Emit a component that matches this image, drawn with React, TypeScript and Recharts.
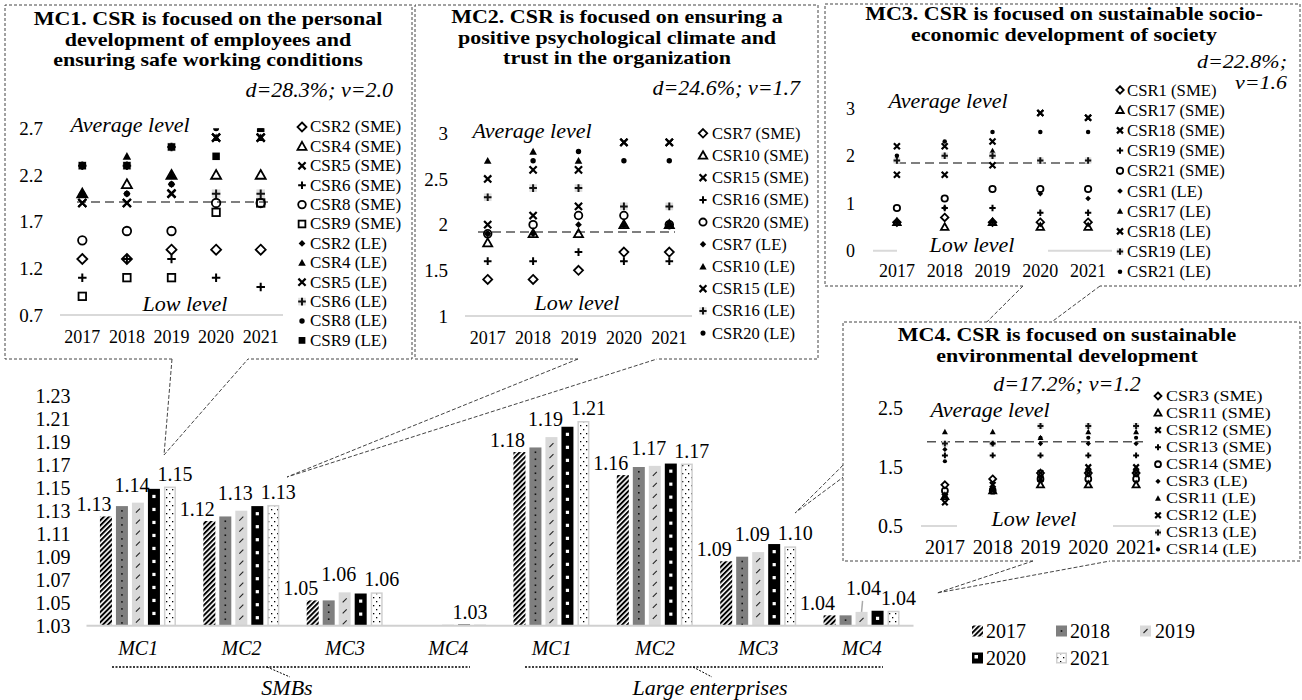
import React from 'react';
import { BarChart, Bar, XAxis, YAxis, LabelList, LineChart, Line, ReferenceLine } from 'recharts';

const FF = "'Liberation Serif','Times New Roman',Times,serif";

// ---------- main bar chart data ----------
const barCategories = ['MC1', 'MC2', 'MC3', 'MC4', 'MC1', 'MC2', 'MC3', 'MC4'];
const years = ['2017', '2018', '2019', '2020', '2021'];
const bar2017 = [1.125, 1.121, 1.052, 1.0305, 1.181, 1.161, 1.086, 1.039];
const bar2018 = [1.134, 1.125, 1.052, 1.0305, 1.185, 1.168, 1.09, 1.039];
const bar2019 = [1.137, 1.13, 1.059, 1.031, 1.194, 1.169, 1.094, 1.042];
const bar2020 = [1.149, 1.134, 1.058, 1.031, 1.203, 1.171, 1.101, 1.043];
const bar2021 = [1.151, 1.135, 1.059, 1.031, 1.208, 1.171, 1.099, 1.043];
const label2017 = ['1.13', '1.12', '1.05', null, '1.18', '1.16', '1.09', '1.04'];
const label2019 = ['1.14', '1.13', '1.06', null, '1.19', '1.17', '1.09', '1.04'];
const label2020 = [null, null, null, '1.03', null, null, null, null];
const label2021 = ['1.15', '1.13', '1.06', null, '1.21', '1.17', '1.10', '1.04'];
const mainTicks = [1.03, 1.05, 1.07, 1.09, 1.11, 1.13, 1.15, 1.17, 1.19, 1.21, 1.23];

// ---------- MC1 inset ----------
const mc1Names = ['CSR2 (SME)', 'CSR4 (SME)', 'CSR5 (SME)', 'CSR6 (SME)', 'CSR8 (SME)', 'CSR9 (SME)', 'CSR2 (LE)', 'CSR4 (LE)', 'CSR5 (LE)', 'CSR6 (LE)', 'CSR8 (LE)', 'CSR9 (LE)'];
const mc1Csr2Sme = [1.3, 1.3, 1.4, 1.4, 1.4];
const mc1Csr4Sme = [2.0, 2.1, 2.2, 2.2, 2.2];
const mc1Csr5Sme = [1.9, 1.9, 2.0, 2.6, 2.6];
const mc1Csr6Sme = [1.1, 1.3, 1.3, 1.1, 1.0];
const mc1Csr8Sme = [1.5, 1.6, 1.6, 1.9, 1.9];
const mc1Csr9Sme = [0.9, 1.1, 1.1, 1.8, 1.9];
const mc1Csr2Le = [2.0, 2.0, 2.1, 2.0, 2.0];
const mc1Csr4Le = [2.0, 2.4, 2.2, 2.6, 2.6];
const mc1Csr5Le = [1.9, 1.9, 2.0, 2.6, 2.6];
const mc1Csr6Le = [2.3, 2.3, 2.5, 2.0, 2.0];
const mc1Csr8Le = [2.0, 2.0, 2.1, 2.7, 2.7];
const mc1Csr9Le = [2.3, 2.3, 2.5, 2.4, 2.7];
const mc1Ticks = [0.7, 1.2, 1.7, 2.2, 2.7];
const mc1Title = ['MC1. CSR is focused on the personal', 'development of employees and', 'ensuring safe working conditions'];

// ---------- MC2 inset ----------
const mc2Names = ['CSR7 (SME)', 'CSR10 (SME)', 'CSR15 (SME)', 'CSR16 (SME)', 'CSR20 (SME)', 'CSR7 (LE)', 'CSR10 (LE)', 'CSR15 (LE)', 'CSR16 (LE)', 'CSR20 (LE)'];
const mc2Csr7Sme = [1.4, 1.4, 1.5, 1.7, 1.7];
const mc2Csr10Sme = [1.8, 1.9, 1.9, 2.0, 2.0];
const mc2Csr15Sme = [2.0, 2.1, 2.2, 2.9, 2.9];
const mc2Csr16Sme = [1.6, 1.6, 1.7, 1.6, 1.6];
const mc2Csr20Sme = [1.9, 2.0, 2.1, 2.1, 2.0];
const mc2Csr7Le = [1.9, 1.9, 2.0, 2.0, 2.0];
const mc2Csr10Le = [2.7, 2.8, 2.7, 2.0, 2.0];
const mc2Csr15Le = [2.5, 2.6, 2.6, 2.9, 2.9];
const mc2Csr16Le = [2.3, 2.4, 2.4, 2.2, 2.2];
const mc2Csr20Le = [1.9, 2.7, 2.8, 2.7, 2.7];
const mc2Ticks = [1, 1.5, 2, 2.5, 3];
const mc2Title = ['MC2. CSR is focused on ensuring a', 'positive psychological climate and', 'trust in the organization'];

// ---------- MC3 inset ----------
const mc3Names = ['CSR1 (SME)', 'CSR17 (SME)', 'CSR18 (SME)', 'CSR19 (SME)', 'CSR21 (SME)', 'CSR1 (LE)', 'CSR17 (LE)', 'CSR18 (LE)', 'CSR19 (LE)', 'CSR21 (LE)'];
const mc3Csr1Sme = [0.6, 0.7, 0.6, 0.6, 0.6];
const mc3Csr17Sme = [0.6, 0.5, 0.6, 0.5, 0.5];
const mc3Csr18Sme = [1.6, 1.6, 1.8, 2.9, 2.8];
const mc3Csr19Sme = [1.9, 0.9, 0.9, 0.8, 0.8];
const mc3Csr21Sme = [0.9, 1.1, 1.3, 1.3, 1.3];
const mc3Csr1Le = [0.6, 0.9, 0.6, 1.2, 1.1];
const mc3Csr17Le = [1.9, 2.0, 2.1, 1.9, 1.9];
const mc3Csr18Le = [2.2, 2.2, 2.3, 2.9, 2.8];
const mc3Csr19Le = [1.9, 2.0, 2.0, 1.9, 1.9];
const mc3Csr21Le = [2.0, 2.3, 2.5, 2.5, 2.5];
const mc3Ticks = [0, 1, 2, 3];
const mc3Title = ['MC3. CSR is focused on sustainable socio-', 'economic development of society'];

// ---------- MC4 inset ----------
const mc4Names = ['CSR3 (SME)', 'CSR11 (SME)', 'CSR12 (SME)', 'CSR13 (SME)', 'CSR14 (SME)', 'CSR3 (LE)', 'CSR11 (LE)', 'CSR12 (LE)', 'CSR13 (LE)', 'CSR14 (LE)'];
const mc4Csr3Sme = [1.2, 1.3, 1.4, 1.4, 1.4];
const mc4Csr11Sme = [1.0, 1.1, 1.2, 1.2, 1.2];
const mc4Csr12Sme = [0.9, 1.1, 1.4, 1.5, 1.5];
const mc4Csr13Sme = [1.7, 1.7, 1.7, 1.7, 1.7];
const mc4Csr14Sme = [1.1, 1.1, 1.3, 1.3, 1.3];
const mc4Csr3Le = [1.8, 1.9, 1.9, 1.9, 1.9];
const mc4Csr11Le = [2.1, 2.1, 2.0, 2.1, 2.1];
const mc4Csr12Le = [1.0, 1.2, 1.3, 1.4, 1.4];
const mc4Csr13Le = [1.9, 1.9, 2.2, 2.2, 2.2];
const mc4Csr14Le = [1.6, 1.9, 2.0, 2.0, 2.0];
const mc4Ticks = [0.5, 1.5, 2.5];
const mc4Title = ['MC4. CSR is focused on sustainable', 'environmental development'];

const averageLevels = [1.91, 1.92, 1.85, 1.93];

// ---------- markers ----------
function Marker({ kind, cx, cy, s }: { kind: string; cx: number; cy: number; s: number }) {
  const h = s / 2;
  switch (kind) {
    case 'dO':
      return <path d={`M${cx} ${cy - h}L${cx + h} ${cy}L${cx} ${cy + h}L${cx - h} ${cy}Z`} fill="none" stroke="#000" strokeWidth={1.8} />;
    case 'dF': {
      const k = h * 0.75;
      return <path d={`M${cx} ${cy - k}L${cx + k} ${cy}L${cx} ${cy + k}L${cx - k} ${cy}Z`} fill="#000" />;
    }
    case 'tO':
      return <path d={`M${cx} ${cy - h}L${cx + h} ${cy + h * 0.75}L${cx - h} ${cy + h * 0.75}Z`} fill="none" stroke="#000" strokeWidth={1.8} />;
    case 'tF': {
      const k = h * 0.85;
      return <path d={`M${cx} ${cy - k}L${cx + k} ${cy + k * 0.8}L${cx - k} ${cy + k * 0.8}Z`} fill="#000" />;
    }
    case 'x': {
      const k = h * 0.8;
      return <path d={`M${cx - k} ${cy - k}L${cx + k} ${cy + k}M${cx + k} ${cy - k}L${cx - k} ${cy + k}`} stroke="#000" strokeWidth={2.2} />;
    }
    case 'p': {
      const k = h * 0.85;
      return <path d={`M${cx - k} ${cy}L${cx + k} ${cy}M${cx} ${cy - k}L${cx} ${cy + k}`} stroke="#000" strokeWidth={2} />;
    }
    case 'pG': {
      const k = h * 0.85;
      return (
        <g>
          <rect x={cx - k} y={cy - k} width={2 * k} height={2 * k} fill="#ddd" />
          <path d={`M${cx - k} ${cy}L${cx + k} ${cy}M${cx} ${cy - k}L${cx} ${cy + k}`} stroke="#111" strokeWidth={2} />
        </g>
      );
    }
    case 'cO':
      return <circle cx={cx} cy={cy} r={h * 0.85} fill="none" stroke="#000" strokeWidth={1.8} />;
    case 'sO': {
      const k = h * 0.75;
      return <rect x={cx - k} y={cy - k} width={2 * k} height={2 * k} fill="none" stroke="#000" strokeWidth={1.8} />;
    }
    case 'sF': {
      const k = h * 0.75;
      return <rect x={cx - k} y={cy - k} width={2 * k} height={2 * k} fill="#000" />;
    }
    case 'o':
    default:
      return <circle cx={cx} cy={cy} r={h * 0.6} fill="#000" />;
  }
}

const kindsA = ['dO', 'tO', 'x', 'p', 'cO', 'sO', 'dF', 'tF', 'x', 'pG', 'o', 'sF'];
const kindsB = ['dO', 'tO', 'x', 'p', 'cO', 'dF', 'tF', 'x', 'pG', 'o'];

type InsetCfg = {
  w: number; h: number; margin: any; yW: number; domain: [number, number]; ticks: number[];
  refY: number; refL: number; refR: number; tmY: number; tmX: number; fsX: number; fsY: number; ms: number;
  vals: number[][]; kinds: string[];
};

function Inset({ cfg }: { cfg: InsetCfg }) {
  const rows = years.map((y, i) => {
    const r: any = { xi: i, year: y };
    cfg.vals.forEach((v, k) => { r['s' + k] = v[i]; });
    return r;
  });
  return (
    <LineChart width={cfg.w} height={cfg.h} data={rows} margin={cfg.margin}>
      <XAxis type="number" dataKey="xi" domain={[-0.5, 4.5]} ticks={[0, 1, 2, 3, 4]} interval={0}
        tickFormatter={(i: number) => years[i]} axisLine={{ stroke: '#d9d9d9', strokeWidth: 2 }} tickLine={false}
        tickMargin={cfg.tmX} height={30} tick={{ fontSize: cfg.fsX, fill: '#000', fontFamily: FF }} allowDataOverflow />
      <YAxis type="number" domain={cfg.domain} ticks={cfg.ticks} interval={0} axisLine={false} tickLine={false}
        width={cfg.yW} tickMargin={cfg.tmY} tick={{ fontSize: cfg.fsY, fill: '#000', fontFamily: FF }} allowDataOverflow />
      <ReferenceLine y={cfg.refY} stroke="#555" strokeDasharray="9 5" strokeWidth={1.5}
        shape={(p: any) => <line x1={p.x1 + cfg.refL} y1={p.y1} x2={p.x2 - cfg.refR} y2={p.y2} stroke="#555" strokeDasharray="9 5" strokeWidth={1.5} />} />
      {cfg.vals.map((_, k) => (
        <Line key={k} dataKey={'s' + k} stroke="none" isAnimationActive={false} activeDot={false}
          dot={(p: any) => (p.cx == null || p.cy == null
            ? <g key={`e${k}-${p.index}`} />
            : <g key={`m${k}-${p.index}`}><Marker kind={cfg.kinds[k]} cx={p.cx} cy={p.cy} s={cfg.ms} /></g>)} />
      ))}
    </LineChart>
  );
}

// ---------- bars ----------
function BarShape(props: any) {
  const { x, y, width: w, height: h, yr } = props;
  if (!(h > 0)) return <g />;
  const cx = x + w / 2;
  const marks: any[] = [];
  if (yr === '2017') return <rect x={x} y={y} width={w} height={h} fill="url(#p2017)" />;
  if (yr === '2018') {
    for (let yy = y + 4; yy < y + h - 2; yy += 7) marks.push(<rect key={yy} x={cx - 0.8} y={yy} width={1.6} height={1.6} fill="#111" />);
    return <g><rect x={x} y={y} width={w} height={h} fill="#7f7f7f" />{marks}</g>;
  }
  if (yr === '2019') {
    for (let yy = y + 8; yy < y + h - 3; yy += 11) marks.push(<line key={yy} x1={cx - 2} y1={yy + 2} x2={cx + 2} y2={yy - 2} stroke="#222" strokeWidth={1.1} />);
    return <g><rect x={x} y={y} width={w} height={h} fill="#d9d9d9" />{marks}</g>;
  }
  if (yr === '2020') {
    for (let yy = y + 6; yy < y + h - 4; yy += 13) marks.push(<rect key={yy} x={cx - 1.6} y={yy} width={3.2} height={3.2} fill="#fff" />);
    return <g><rect x={x} y={y} width={w} height={h} fill="#000" />{marks}</g>;
  }
  return <rect x={x + 0.75} y={y + 0.75} width={Math.max(w - 1.5, 0)} height={Math.max(h - 0.75, 0)} fill="url(#p2021)" stroke="#d0d0d0" strokeWidth={1.5} />;
}

const mkLabel = (dx: number, dy: number, series: string) => (p: any) => {
  const v = p.value;
  if (v == null || v === '') return null;
  const vb = p.viewBox || {};
  const x = vb.x ?? p.x;
  const y = vb.y ?? p.y;
  const w = vb.width ?? p.width;
  const cx = x + w / 2;
  if (series === '2019' && p.index === 7) {
    return (
      <g>
        <line x1={cx + 1} y1={y - 11} x2={cx} y2={y} stroke="#aaa" strokeWidth={1.5} />
        <text x={cx + 2} y={y - 24} textAnchor="middle" dominantBaseline="central" fontSize={20} fontFamily={FF} fill="#000">{v}</text>
      </g>
    );
  }
  return <text x={cx + dx} y={y + dy} textAnchor="middle" dominantBaseline="central" fontSize={20} fontFamily={FF} fill="#000">{v}</text>;
};

const T = ({ x, y, s = 20, a = 'start', w = 'normal', i = false, children }: any) => (
  <text x={x} y={y} fontSize={s} textAnchor={a} fontWeight={w} fontStyle={i ? 'italic' : 'normal'} fontFamily={FF} dominantBaseline="central" fill="#000">{children}</text>
);

// lines of text, each horizontally stretched by sx so that tight line spacing does not make them collide
const ML = ({ x, y0, dy, lines, s = 20, sx = 1, a = 'start', w = 'normal', i = false }: any) => (
  <g>
    {lines.map((l: string, k: number) => (
      <text key={k} transform={`translate(${x} ${y0 + k * dy}) scale(${sx} 1)`} x={0} y={0} fontSize={s} textAnchor={a}
        fontWeight={w} fontStyle={i ? 'italic' : 'normal'} fontFamily={FF} dominantBaseline="central" fill="#000">{l}</text>
    ))}
  </g>
);

function InsetLegend({ names, kinds, x, tx, y0, dy, fs, sx = 1, ms }: any) {
  return (
    <g>
      {names.map((n: string, i: number) => (
        <Marker key={n} kind={kinds[i]} cx={x} cy={y0 + i * dy} s={ms} />
      ))}
      <ML x={tx} y0={y0} dy={dy} lines={names} s={fs} sx={sx} />
    </g>
  );
}

export default function App() {
  const barRows = barCategories.map((c, i) => ({
    key: `${c}|${i}`,
    v2017: bar2017[i], v2018: bar2018[i], v2019: bar2019[i], v2020: bar2020[i], v2021: bar2021[i],
    l2017: label2017[i], l2019: label2019[i], l2020: label2020[i], l2021: label2021[i],
  }));

  const mc1: InsetCfg = {
    w: 290, h: 250, margin: { top: 28.3, right: 7, bottom: 5, left: 0 }, yW: 60, domain: [0.7, 2.7], ticks: mc1Ticks,
    refY: averageLevels[0], refL: 17, refR: 10, tmY: 11, tmX: 9, fsX: 18, fsY: 19, ms: 10,
    vals: [mc1Csr2Sme, mc1Csr4Sme, mc1Csr5Sme, mc1Csr6Sme, mc1Csr8Sme, mc1Csr9Sme, mc1Csr2Le, mc1Csr4Le, mc1Csr5Le, mc1Csr6Le, mc1Csr8Le, mc1Csr9Le],
    kinds: kindsA,
  };
  const mc2: InsetCfg = {
    w: 290, h: 250, margin: { top: 33.3, right: 8, bottom: 4, left: 0 }, yW: 55, domain: [1, 3], ticks: mc2Ticks,
    refY: averageLevels[1], refL: 13, refR: 17, tmY: 11, tmX: 9, fsX: 18, fsY: 19, ms: 9,
    vals: [mc2Csr7Sme, mc2Csr10Sme, mc2Csr15Sme, mc2Csr16Sme, mc2Csr20Sme, mc2Csr7Le, mc2Csr10Le, mc2Csr15Le, mc2Csr16Le, mc2Csr20Le],
    kinds: kindsB,
  };
  const mc3: InsetCfg = {
    w: 300, h: 210, margin: { top: 28.3, right: 8, bottom: 9.3, left: 0 }, yW: 53, domain: [0, 3], ticks: mc3Ticks,
    refY: averageLevels[2], refL: 24, refR: 19, tmY: 12, tmX: 8, fsX: 18, fsY: 18, ms: 7.5,
    vals: [mc3Csr1Sme, mc3Csr17Sme, mc3Csr18Sme, mc3Csr19Sme, mc3Csr21Sme, mc3Csr1Le, mc3Csr17Le, mc3Csr18Le, mc3Csr19Le, mc3Csr21Le],
    kinds: kindsB,
  };
  const mc4: InsetCfg = {
    w: 330, h: 185, margin: { top: 28.3, right: 10, bottom: 9, left: 0 }, yW: 81, domain: [0.5, 2.5], ticks: mc4Ticks,
    refY: averageLevels[3], refL: 6, refR: 17, tmY: 12, tmX: 8, fsX: 20, fsY: 20, ms: 7,
    vals: [mc4Csr3Sme, mc4Csr11Sme, mc4Csr12Sme, mc4Csr13Sme, mc4Csr14Sme, mc4Csr3Le, mc4Csr11Le, mc4Csr12Le, mc4Csr13Le, mc4Csr14Le],
    kinds: kindsB,
  };

  const dash = { stroke: '#444', strokeWidth: 1, strokeDasharray: '3 2', fill: 'none' } as any;
  const TS = 18.5; // title font size (stretched horizontally)
  const TX = 22 / TS;

  return (
    <div style={{ position: 'absolute', left: 0, top: 0, width: 1302, height: 700, background: '#fff', fontFamily: FF, overflow: 'hidden' }}>
      <svg width={0} height={0} style={{ position: 'absolute' }}>
        <defs>
          <pattern id="p2017" patternUnits="userSpaceOnUse" width="3.6" height="3.6" patternTransform="rotate(45)">
            <rect width="3.6" height="3.6" fill="#fff" />
            <rect width="2" height="3.6" fill="#000" />
          </pattern>
          <pattern id="p2021" patternUnits="userSpaceOnUse" width="6" height="8">
            <rect width="6" height="8" fill="#fff" />
            <rect x="1" y="1" width="1.3" height="1.3" fill="#000" />
            <rect x="4" y="5" width="1.3" height="1.3" fill="#000" />
          </pattern>
        </defs>
      </svg>

      <div style={{ position: 'absolute', left: 0, top: 380 }}>
        <BarChart width={930} height={320} data={barRows} margin={{ top: 15.7, right: 16.5, bottom: 34.3, left: 0 }} barCategoryGap="13%" barGap={4}>
          <XAxis dataKey="key" tickFormatter={(v: any) => String(v).split('|')[0]} axisLine={{ stroke: '#d0d0d0', strokeWidth: 2 }}
            tickLine={false} tickMargin={9} height={40} interval={0} tick={{ fontSize: 20, fontStyle: 'italic', fill: '#000', fontFamily: FF }} />
          <YAxis type="number" domain={[1.03, 1.23]} ticks={mainTicks} interval={0} allowDataOverflow axisLine={false} tickLine={false}
            width={86.5} tickMargin={10} tickFormatter={(v: number) => v.toFixed(2)} tick={{ fontSize: 20, fill: '#000', fontFamily: FF }} />
          <Bar dataKey="v2017" isAnimationActive={false} shape={(p: any) => <BarShape {...p} yr="2017" />}>
            <LabelList dataKey="l2017" content={mkLabel(-12, -12, '2017')} />
          </Bar>
          <Bar dataKey="v2018" isAnimationActive={false} shape={(p: any) => <BarShape {...p} yr="2018" />} />
          <Bar dataKey="v2019" isAnimationActive={false} shape={(p: any) => <BarShape {...p} yr="2019" />}>
            <LabelList dataKey="l2019" content={mkLabel(-6, -18, '2019')} />
          </Bar>
          <Bar dataKey="v2020" isAnimationActive={false} shape={(p: any) => <BarShape {...p} yr="2020" />}>
            <LabelList dataKey="l2020" content={mkLabel(6, -13, '2020')} />
          </Bar>
          <Bar dataKey="v2021" isAnimationActive={false} shape={(p: any) => <BarShape {...p} yr="2021" />}>
            <LabelList dataKey="l2021" content={mkLabel(5, -13, '2021')} />
          </Bar>
        </BarChart>
      </div>

      <div style={{ position: 'absolute', left: 0, top: 100 }}><Inset cfg={mc1} /></div>
      <div style={{ position: 'absolute', left: 410, top: 100 }}><Inset cfg={mc2} /></div>
      <div style={{ position: 'absolute', left: 820, top: 80 }}><Inset cfg={mc3} /></div>
      <div style={{ position: 'absolute', left: 840, top: 380 }}><Inset cfg={mc4} /></div>

      <svg width={1302} height={700} style={{ position: 'absolute', left: 0, top: 0, pointerEvents: 'none' }}>
        {/* boxes with callouts */}
        <path d="M172 359L5 359L5 5L412 5L412 359L248 359" {...dash} />
        <path d="M172 359L164 455L248 359" {...dash} strokeDasharray="4 2" />
        <path d="M578 359L415 359L415 5L818 5L818 359L657 359" {...dash} />
        <path d="M578 359L287 477L657 359" {...dash} strokeDasharray="4 2" />
        <path d="M1023 286L825 286L825 4L1300 4L1300 286L1100 286" {...dash} />
        <path d="M1023 286L986.8 322M1100 286L1051.6 322M843 465.2L795 513L843 477.3" {...dash} strokeDasharray="4 2" />
        <path d="M1033 561L843 561L843 322L1300 322L1300 561L1110 561" {...dash} />
        <path d="M1033 561L937 593L1110 561" {...dash} strokeDasharray="4 2" />

        {/* MC1 texts */}
        <ML x={208} y0={19} dy={20.5} lines={mc1Title} s={TS} sx={TX} a="middle" w="bold" />
        <T x={393} y={89} s={22} a="end" i>d=28.3%; v=2.0</T>
        <T x={130} y={124} s={22} a="middle" i>Average level</T>
        <T x={185} y={303} s={22} a="middle" i>Low level</T>
        <InsetLegend names={mc1Names} kinds={kindsA} x={302} tx={310} y0={127} dy={19.4} fs={16.5} sx={1.03} ms={9} />

        {/* MC2 texts */}
        <ML x={617} y0={17} dy={20.5} lines={mc2Title} s={TS} sx={TX} a="middle" w="bold" />
        <T x={800} y={87} s={22} a="end" i>d=24.6%; v=1.7</T>
        <T x={532} y={130} s={22} a="middle" i>Average level</T>
        <T x={577} y={302} s={22} a="middle" i>Low level</T>
        <InsetLegend names={mc2Names} kinds={kindsB} x={703} tx={712} y0={133.3} dy={22.2} fs={16.5} ms={8.5} />

        {/* MC3 texts */}
        <ML x={1064} y0={14} dy={20.5} lines={mc3Title} s={TS} sx={TX} a="middle" w="bold" />
        <ML x={1287} y0={62} dy={21} lines={['d=22.8%;', 'v=1.6']} s={19} sx={22 / 19} a="end" i />
        <T x={948} y={100} s={22} a="middle" i>Average level</T>
        <rect x={897} y={232} width={151} height={24} fill="#fff" />
        <T x={972} y={244} s={22} a="middle" i>Low level</T>
        <InsetLegend names={mc3Names} kinds={kindsB} x={1120} tx={1127} y0={90} dy={20.2} fs={16.7} ms={7.5} />

        {/* MC4 texts */}
        <ML x={1067} y0={335} dy={20.5} lines={mc4Title} s={TS} sx={TX} a="middle" w="bold" />
        <T x={1067} y={383} s={22} a="middle" i>d=17.2%; v=1.2</T>
        <T x={990} y={409} s={22} a="middle" i>Average level</T>
        <rect x={957} y={506} width={156} height={24} fill="#fff" />
        <T x={1034} y={518} s={22} a="middle" i>Low level</T>
        <InsetLegend names={mc4Names} kinds={kindsB} x={1158} tx={1166} y0={396} dy={17.05} fs={15} sx={1.2} ms={7} />

        {/* group brackets */}
        <line x1={112} y1={667} x2={470} y2={667} stroke="#000" strokeWidth={1.3} strokeDasharray="2 1.5" />
        <line x1={267} y1={667} x2={290} y2={677} stroke="#000" strokeWidth={1} strokeDasharray="2 1.5" />
        <line x1={525} y1={667} x2={883} y2={667} stroke="#000" strokeWidth={1.3} strokeDasharray="2 1.5" />
        <line x1={693} y1={667} x2={712} y2={677} stroke="#000" strokeWidth={1} strokeDasharray="2 1.5" />
        <T x={287} y={687} s={22} a="middle" i>SMBs</T>
        <T x={710} y={687} s={22} a="middle" i>Large enterprises</T>

        {/* main legend */}
        <rect x={972} y={625.5} width={11} height={11} fill="url(#p2017)" />
        <T x={986} y={631} s={20}>{years[0]}</T>
        <rect x={1056} y={625.5} width={11} height={11} fill="#7f7f7f" />
        <rect x={1060.7} y={630.2} width={1.6} height={1.6} fill="#111" />
        <T x={1070} y={631} s={20}>{years[1]}</T>
        <rect x={1140} y={625.5} width={11} height={11} fill="#d9d9d9" />
        <line x1={1143.5} y1={633} x2={1147.5} y2={629} stroke="#222" strokeWidth={1.1} />
        <T x={1155} y={631} s={20}>{years[2]}</T>
        <rect x={972} y={652.5} width={11} height={11} fill="#000" />
        <rect x={974.5} y={655} width={3.5} height={3.5} fill="#fff" />
        <T x={986} y={658} s={20}>{years[3]}</T>
        <rect x={1056.75} y={653.25} width={9.5} height={9.5} fill="url(#p2021)" stroke="#d0d0d0" strokeWidth={1.5} />
        <T x={1070} y={658} s={20}>{years[4]}</T>
      </svg>
    </div>
  );
}
